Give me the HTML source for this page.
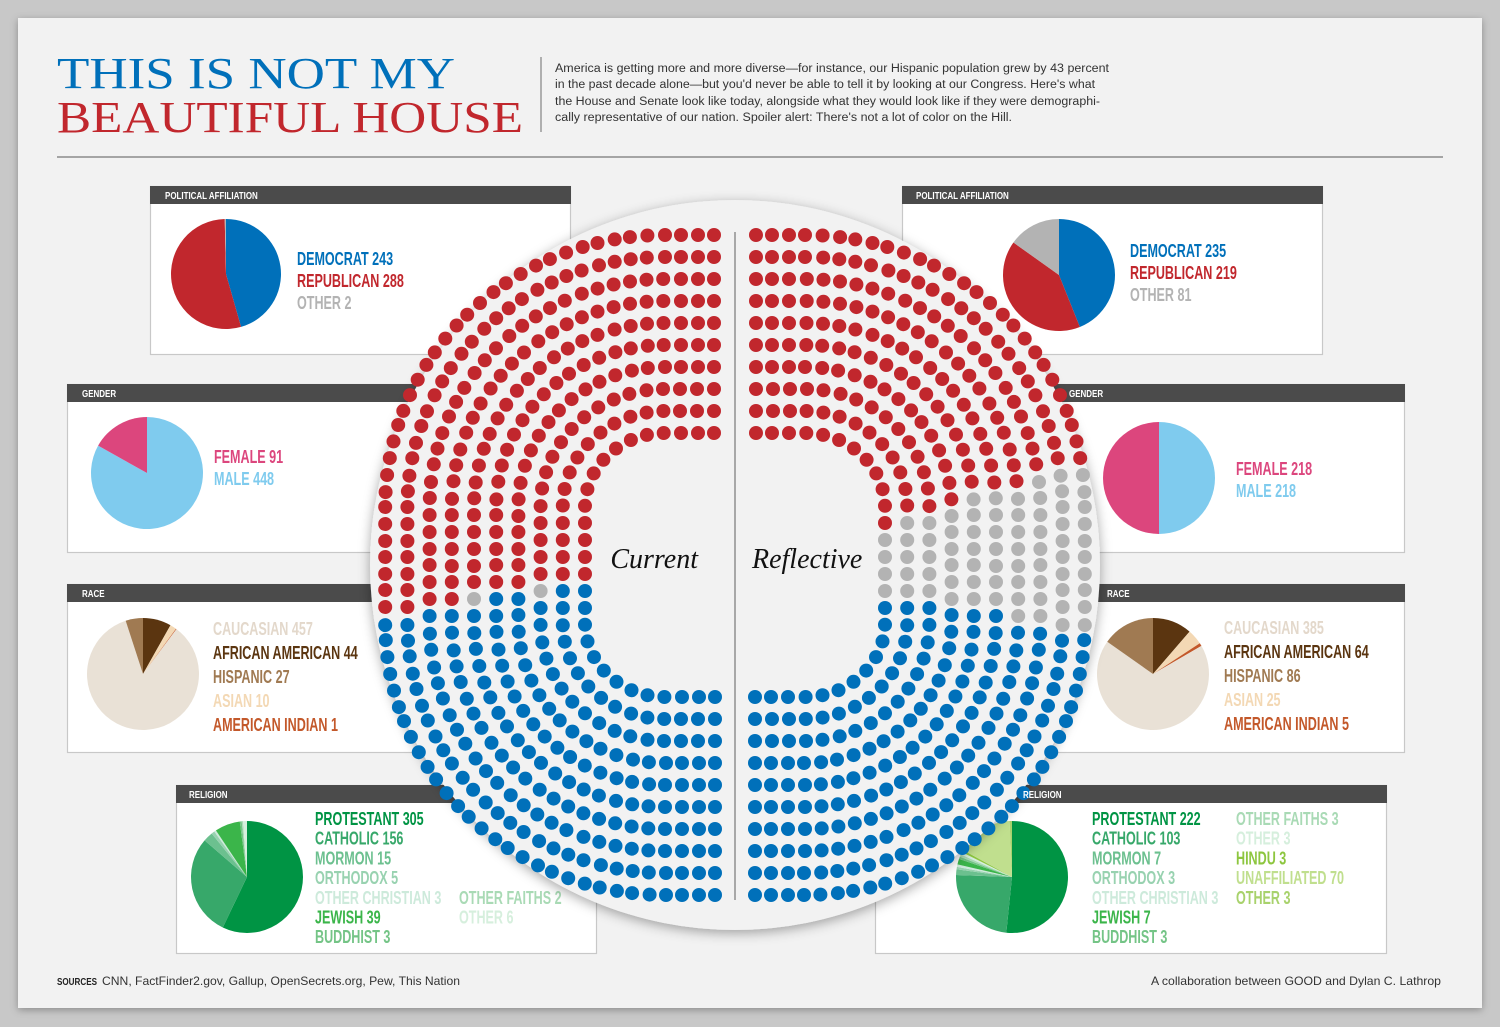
<!DOCTYPE html>
<html><head><meta charset="utf-8">
<style>
html,body{margin:0;padding:0;background:#c8c8c8;}
svg{display:block;}
.lbl{font-family:"Liberation Sans Narrow","Liberation Sans",sans-serif;font-weight:bold;font-size:18.5px;}
.hdr{font-family:"Liberation Sans Narrow","Liberation Sans",sans-serif;font-weight:bold;font-size:10.5px;fill:#fff;}
.par{font-family:"Liberation Sans",sans-serif;font-size:11.5px;fill:#333;}
</style></head>
<body>
<svg id="root" width="1500" height="1027" viewBox="0 0 1500 1027" xmlns="http://www.w3.org/2000/svg">
<defs>
<filter id="sh" x="-10%" y="-10%" width="120%" height="120%"><feDropShadow dx="0" dy="3" stdDeviation="6" flood-color="#000" flood-opacity="0.35"/></filter>
<filter id="sh2" x="-5%" y="-5%" width="110%" height="110%"><feDropShadow dx="0" dy="2" stdDeviation="4" flood-color="#000" flood-opacity="0.3"/></filter>
</defs>
<rect x="0" y="0" width="1500" height="1027" fill="#c8c8c8"/>
<rect x="18" y="18" width="1464" height="990" fill="#f2f2f2" filter="url(#sh2)"/>
<text x="57" y="88" font-family="Liberation Serif,serif" font-size="44" fill="#0070ba" textLength="398" lengthAdjust="spacingAndGlyphs">THIS IS NOT MY</text>
<text x="57" y="132" font-family="Liberation Serif,serif" font-size="44" fill="#c1272d" textLength="466" lengthAdjust="spacingAndGlyphs">BEAUTIFUL HOUSE</text>
<line x1="541" y1="57" x2="541" y2="132" stroke="#999" stroke-width="1.5"/>
<g>
<text class="par" x="555" y="72" textLength="554" lengthAdjust="spacingAndGlyphs">America is getting more and more diverse—for instance, our Hispanic population grew by 43 percent</text>
<text class="par" x="555" y="88" textLength="540" lengthAdjust="spacingAndGlyphs">in the past decade alone—but you'd never be able to tell it by looking at our Congress. Here's what</text>
<text class="par" x="555" y="105" textLength="545" lengthAdjust="spacingAndGlyphs">the House and Senate look like today, alongside what they would look like if they were demographi-</text>
<text class="par" x="555" y="121" textLength="457" lengthAdjust="spacingAndGlyphs">cally representative of our nation. Spoiler alert: There's not a lot of color on the Hill.</text>
</g>
<line x1="57" y1="157" x2="1443" y2="157" stroke="#777" stroke-width="1.2"/>
<g id="panels"></g>
<g id="circle"></g>
<g id="overtitles"></g>
<text x="57" y="985" class="hdr" style="fill:#222;font-size:10.5px" textLength="40" lengthAdjust="spacingAndGlyphs">SOURCES</text>
<text x="102" y="985" class="par" style="font-size:12px" textLength="358" lengthAdjust="spacingAndGlyphs">CNN, FactFinder2.gov, Gallup, OpenSecrets.org, Pew, This Nation</text>
<text x="1441" y="985" class="par" text-anchor="end" style="font-size:12px" textLength="290" lengthAdjust="spacingAndGlyphs">A collaboration between GOOD and Dylan C. Lathrop</text>
</svg>
<script>
// ---- Data ----
const politicalLabels = ["DEMOCRAT","REPUBLICAN","OTHER"];
const politicalColors = ["#0070ba","#c1272d","#b3b3b3"];
const politicalCurrent = [243,288,2];
const politicalReflective = [235,219,81];
const genderLabels = ["MALE","FEMALE"];
const genderColors = ["#7fcbee","#dc467d"];
const genderCurrent = [448,91];
const genderReflective = [218,218];
const raceLabels = ["AFRICAN AMERICAN","ASIAN","AMERICAN INDIAN","CAUCASIAN","HISPANIC"];
const raceColors = ["#5b3510","#f3d8b4","#c3582a","#e9e1d6","#a07a52"];
const raceCurrent = [44,10,1,457,27];
const raceReflective = [64,25,5,385,86];
const relLabelsCur = ["PROTESTANT","CATHOLIC","MORMON","ORTHODOX","OTHER CHRISTIAN","JEWISH","BUDDHIST","OTHER FAITHS","OTHER"];
const relColorsCur = ["#009444","#37a86a","#6cc08f","#98d2b0","#cdeadb","#3bb54a","#74c486","#a9dab5","#d6efdd"];
const relCurrent = [305,156,15,5,3,39,3,2,6];
const relLabelsRef = ["PROTESTANT","CATHOLIC","MORMON","ORTHODOX","OTHER CHRISTIAN","JEWISH","BUDDHIST","OTHER FAITHS","OTHER","HINDU","UNAFFILIATED","OTHER"];
const relColorsRef = ["#009444","#37a86a","#6cc08f","#98d2b0","#cdeadb","#3bb54a","#74c486","#a9dab5","#d6efdd","#8dc63f","#c0df8e","#a8d26c"];
const relReflective = [222,103,7,3,3,7,3,3,3,3,70,3];
const seatColors = ["#c1272d","#b3b3b3","#0070ba"];
const seatCountsCur = [288,2,243];
const seatCountsRef = [219,81,235];

const NS="http://www.w3.org/2000/svg";
function mk(tag,attrs,parent){const e=document.createElementNS(NS,tag);for(const k in attrs)e.setAttribute(k,attrs[k]);if(parent)parent.appendChild(e);return e;}
const panels=document.getElementById('panels');
const overtitles=document.getElementById('overtitles');

function pie(g,cx,cy,r,vals,cols,name){
  const tot=vals.reduce((a,b)=>a+b,0);let a0=0;
  vals.forEach((v,i)=>{
    if(v<=0)return;
    const a1=a0+v/tot*2*Math.PI;
    const x0=cx+r*Math.sin(a0),y0=cy-r*Math.cos(a0),x1=cx+r*Math.sin(a1),y1=cy-r*Math.cos(a1);
    const large=(a1-a0)>Math.PI?1:0;
    let p;
    if(v===tot){p=mk('circle',{cx:cx,cy:cy,r:r,fill:cols[i]},g);}
    else p=mk('path',{d:`M${cx},${cy}L${x0},${y0}A${r},${r} 0 ${large} 1 ${x1},${y1}Z`,fill:cols[i]},g);
    
    
    a0=a1;
  });
}
function panel(name,title,x,y,w,h,tx){
  const g=mk('g',{},panels);
  
  
  const b=mk('rect',{x:x+0.5,y:y+0.5,width:w,height:h,fill:'#fff',stroke:'#c8c8c8','stroke-width':1.2},g);
  
  
  const hb=mk('rect',{x:x,y:y,width:w+1,height:18,fill:'#4b4b4b'},g);
  
  
  const t=mk('text',{x:0,y:0,class:'hdr',transform:`translate(${tx},${y+13}) scale(0.76,1)`},g);t.textContent=title;
  
  
  return g;
}
function label(g,x,y,txt,col){
  const t=mk('text',{x:0,y:0,class:'lbl',fill:col,transform:`translate(${x},${y}) scale(0.68,1)`},g);t.textContent=txt;
  
  
}

// Political
let g=panel('political-current','POLITICAL AFFILIATION',150,186,420,168,165);
pie(g,226,274,55,politicalCurrent,politicalColors,'political-current');
[0,1,2].forEach((i,j)=>label(g,297,265+j*22,politicalLabels[i]+' '+politicalCurrent[i],politicalColors[i]));
g=panel('political-reflective','POLITICAL AFFILIATION',902,186,420,168,916);
pie(g,1059,275,56,politicalReflective,politicalColors,'political-reflective');
[0,1,2].forEach((i,j)=>label(g,1130,257+j*22,politicalLabels[i]+' '+politicalReflective[i],politicalColors[i]));
// Gender
g=panel('gender-current','GENDER',67,384,420,168,82);
pie(g,147,473,56,genderCurrent,genderColors,'gender-current');
label(g,214,463,'FEMALE  '+genderCurrent[1],genderColors[1]);
label(g,214,485,'MALE '+genderCurrent[0],genderColors[0]);
g=panel('gender-reflective','',1000,384,404,168,1069);
pie(g,1159,478,56,genderReflective,genderColors,'gender-reflective');
label(g,1236,475,'FEMALE  '+genderReflective[1],genderColors[1]);
label(g,1236,497,'MALE '+genderReflective[0],genderColors[0]);
// Race
const raceOrder=[3,0,4,1,2];
g=panel('race-current','RACE',67,584,420,168,82);
pie(g,143,674,56,raceCurrent,raceColors,'race-current');
raceOrder.forEach((i,j)=>label(g,213,635+j*24,raceLabels[i]+' '+raceCurrent[i],raceColors[i]==='#e9e1d6'?'#e3d8cb':raceColors[i]));
g=panel('race-reflective','',1000,584,404,168,1107);
pie(g,1153,674,56,raceReflective,raceColors,'race-reflective');
raceOrder.forEach((i,j)=>label(g,1224,634+j*24,raceLabels[i]+' '+raceReflective[i],raceColors[i]==='#e9e1d6'?'#e3d8cb':raceColors[i]));
// Religion
g=panel('religion-current','RELIGION',176,785,420,168,189);
pie(g,247,877,56,relCurrent,relColorsCur,'religion-current');
relLabelsCur.forEach((l,i)=>{
  const col=i<7?0:1, row=i<7?i:i-3;
  label(g,col?459:315,825+row*19.7,l+' '+relCurrent[i],relColorsCur[i]);
});
g=panel('religion-reflective','',875,785,511,168,1023);
pie(g,1012,877,56,relReflective,relColorsRef,'religion-reflective');
const refPos=[[0,0],[0,1],[0,2],[0,3],[0,4],[0,5],[0,6],[1,0],[1,1],[1,2],[1,3],[1,4]];
relLabelsRef.forEach((l,i)=>{
  const p=refPos[i];
  label(g,p[0]?1236:1092,825+p[1]*19.7,l+' '+relReflective[i],relColorsRef[i]);
});
// titles of right panels drawn above circle
[['GENDER',1069,397],['RACE',1107,597],['RELIGION',1023,798]].forEach(a=>{
  const t=mk('text',{x:0,y:0,class:'hdr',transform:`translate(${a[1]},${a[2]}) scale(0.76,1)`},overtitles);t.textContent=a[0];
  
  
});

// ---- Seat circle ----
const cg=document.getElementById('circle');
const XC=735,YC=565;
const bg=mk('circle',{cx:XC,cy:YC,r:365,fill:'#f2f2f2',filter:'url(#sh)'},cg);


const dl=mk('line',{x1:XC,y1:232,x2:XC,y2:900,stroke:'#777','stroke-width':1.2},cg);



function trackPts(k){
  const dx=150+k*22.2, dy=132+k*22;
  const hx=70, vy=58;
  const rx=dx-hx, ry=dy-vy;
  const pts=[];
  for(let x=XC-20;x>=XC-hx;x-=1)pts.push([x,YC-dy]);
  for(let i=1;i<=200;i++){const t=i/200*Math.PI/2;pts.push([XC-hx-rx*Math.sin(t),YC-vy-ry*Math.cos(t)]);}
  for(let y=YC-vy+1;y<=YC+vy;y+=1)pts.push([XC-dx,y]);
  for(let i=1;i<=200;i++){const t=i/200*Math.PI/2;pts.push([XC-hx-rx*Math.cos(t),YC+vy+ry*Math.sin(t)]);}
  for(let x=XC-hx+1;x<=XC-20;x+=1)pts.push([x,YC+dy]);
  const cum=[0];for(let i=1;i<pts.length;i++)cum.push(cum[i-1]+Math.hypot(pts[i][0]-pts[i-1][0],pts[i][1]-pts[i-1][1]));
  return {pts,cum,L:cum[cum.length-1]};
}
function pointAt(tr,s){let lo=0,hi=tr.cum.length-1;while(hi-lo>1){const m=(lo+hi)>>1;if(tr.cum[m]<s)lo=m;else hi=m;}return tr.pts[hi];}
function seats(counts,mirror,name){
  const tracks=[];for(let k=0;k<10;k++)tracks.push(trackPts(k));
  const dots=[];
  tracks.forEach((t,k)=>{const n=Math.floor(t.L/16.6)+1;for(let i=0;i<n;i++){const p=pointAt(t,i*t.L/(n-1));const x=mirror?2*XC-p[0]:p[0];dots.push({x:x,y:p[1],a:Math.atan2(Math.abs(XC-p[0]),YC-p[1])});}});
  dots.sort((a,b)=>a.a-b.a);
  const N=dots.length, tot=counts.reduce((a,b)=>a+b,0);
  let acc=0;const bounds=counts.map(c=>{acc+=c;return Math.round(acc/tot*N);});
  dots.forEach((d,idx)=>{
    let ci=0;while(ci<bounds.length-1&&idx>=bounds[ci])ci++;
    const e=mk('circle',{cx:d.x.toFixed(1),cy:d.y.toFixed(1),r:7,fill:seatColors[ci]},cg);
    
    
  });
}
seats(seatCountsCur,false,'current');
seats(seatCountsRef,true,'reflective');
const t1=mk('text',{x:698,y:568,'text-anchor':'end','font-family':'Liberation Serif,serif','font-style':'italic','font-size':28,fill:'#111'},cg);t1.textContent='Current';


const t2=mk('text',{x:752,y:568,'font-family':'Liberation Serif,serif','font-style':'italic','font-size':28,fill:'#111'},cg);t2.textContent='Reflective';


</script>
</body></html>
